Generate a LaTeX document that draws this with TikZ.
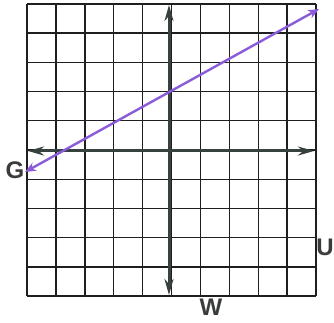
\documentclass[tikz,border=0pt]{standalone}
\usepackage{fontspec}
\setmainfont{Liberation Sans}
\usetikzlibrary{arrows.meta}
\definecolor{axisc}{RGB}{55,66,64}
\definecolor{purp}{RGB}{138,92,218}
\definecolor{labc}{RGB}{58,60,60}
\begin{document}
\begin{tikzpicture}[x=1pt,y=-1pt,
  gridline/.style={line width=1.4pt, black!88},
  axisline/.style={line width=3pt, axisc, {Stealth[length=16pt,width=9pt]}-{Stealth[length=16pt,width=9pt]}},
  purpline/.style={line width=2.4pt, purp, {Stealth[length=11pt,width=9pt]}-{Stealth[length=11pt,width=9pt]}},
  lab/.style={font=\fontsize{24}{24}\selectfont\bfseries, text=labc, inner sep=0pt}]
\useasboundingbox (0,0) rectangle (334,323);
% grid
\foreach \i in {0,...,10}{
  \draw[gridline] ({27+28.9*\i},4) -- ({27+28.9*\i},296);
  \draw[gridline] (27,{4+29.2*\i}) -- (316,{4+29.2*\i});
}
% axes
\coordinate (xl) at (28,151);
\coordinate (xr) at (314,151);
\coordinate (yt) at (169,5);
\coordinate (yb) at (169,295);
\draw[axisline] (xl) -- (xr);
\draw[axisline] (yt) -- (yb);
% line
\coordinate (pl) at (25,172);
\coordinate (pr) at (319,9);
\draw[purpline] (pl) -- (pr);
% labels
\node[lab] (G) at (15,170) {G};
\node[lab] (U) at (325,247) {U};
\node[lab] (W) at (211,307) {W};
\end{tikzpicture}
\end{document}
